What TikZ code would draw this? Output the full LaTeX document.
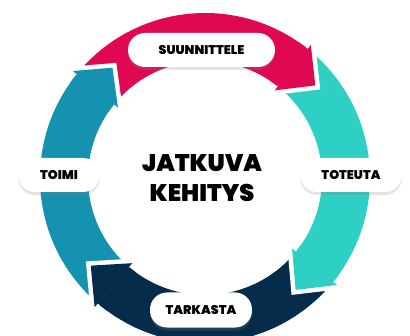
\documentclass[tikz,border=0pt]{standalone}
\usepackage{fontspec}
\newfontfamily\heavy{Poppins Black}
\usetikzlibrary{shadows}
\definecolor{cRed}{RGB}{224,8,82}
\definecolor{cTeal}{RGB}{46,208,198}
\definecolor{cNavy}{RGB}{6,44,76}
\definecolor{cBlue}{RGB}{20,146,176}
\newcommand\ringseg[3]{%
  \fill[#1] (#2:165pt) arc[start angle=#2, end angle=#3, radius=165pt]
    -- (#3:117pt) arc[start angle=#3, end angle=#2, radius=117pt] -- cycle;}
\newcommand\arrhead[4]{% color, base angle, tip angle, base+4
  \draw[white, line width=9pt, line join=miter] (#2:112pt) -- (#3:144pt) -- (#2:170pt);
  \fill[#1] (#2:112pt) -- (#3:144pt) -- (#2:170pt) -- cycle;
  \ringseg{#1}{#4}{#2}}
\tikzset{
  lab/.style={fill=white, rounded corners=17pt, minimum height=34pt,
    inner sep=0pt, font=\heavy\fontsize{12.6}{14}\selectfont,
    drop shadow={opacity=0.22, shadow xshift=0pt, shadow yshift=-3pt}},
  title/.style={font=\heavy\fontsize{24}{30}\selectfont, align=center}
}
\begin{document}
\begin{tikzpicture}[x=1pt,y=1pt]
\useasboundingbox (0,0) rectangle (410,335);
\begin{scope}[shift={(205,157)}]
  \ringseg{cRed}{141}{51.5}
  \ringseg{cTeal}{51.5}{-39}
  \ringseg{cNavy}{-39}{-130.5}
  \ringseg{cBlue}{-130.5}{-219}
  \arrhead{cRed}{51.5}{40}{55.5}
  \arrhead{cTeal}{-39}{-51}{-35}
  \arrhead{cNavy}{-130.5}{-142.5}{-126.5}
  \arrhead{cBlue}{-219}{-230}{-215}
\end{scope}
\node[lab, minimum width=147pt] (plan) at (201.5,285) {SUUNNITTELE};
\node[lab, minimum width=102pt] (do) at (351,160) {TOTEUTA};
\node[lab, minimum width=102pt, minimum height=35pt] (check) at (201,25) {TARKASTA};
\node[lab, minimum width=82pt] (act) at (59,160) {TOIMI};
\node[title] (center) at (202,156.5) {JATKUVA\\KEHITYS};
\end{tikzpicture}
\end{document}
